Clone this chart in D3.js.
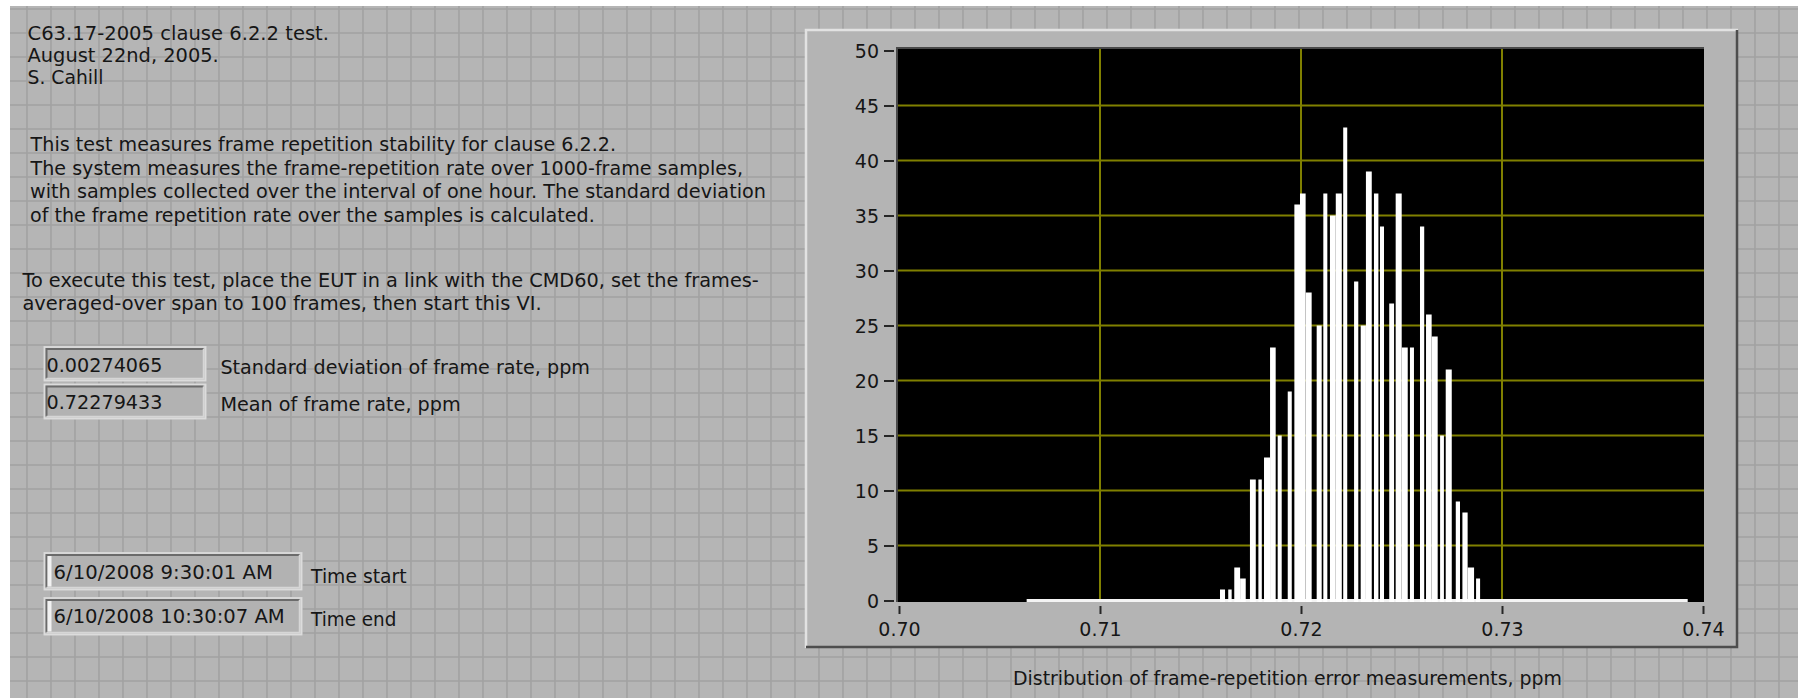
<!DOCTYPE html>
<html><head><meta charset="utf-8">
<script src="https://cdn.jsdelivr.net/npm/d3@7"></script>
<style>
body{margin:0;background:#fff}
svg{display:block}
text{font-family:"DejaVu Sans",sans-serif;font-size:19px;fill:#161616}
</style>
</head><body>
<svg id="c" width="1798" height="698"></svg>
<script>
// ---------------- data ----------------
const noteLines = ["C63.17-2005 clause 6.2.2 test.", "August 22nd, 2005.", "S. Cahill"];
const descLines = [
  "This test measures frame repetition stability for clause 6.2.2.",
  "The system measures the frame-repetition rate over 1000-frame samples,",
  "with samples collected over the interval of one hour. The standard deviation",
  "of the frame repetition rate over the samples is calculated."
];
const execLines = [
  "To execute this test, place the EUT in a link with the CMD60, set the frames-",
  "averaged-over span to 100 frames, then start this VI."
];
const stdDevPpm = 0.00274065;
const meanPpm = 0.72279433;
const indicatorLabels = ["Standard deviation of frame rate, ppm", "Mean of frame rate, ppm"];
const timeValues = ["6/10/2008 9:30:01 AM", "6/10/2008 10:30:07 AM"];
const timeLabels = ["Time start", "Time end"];
const xAxisTitle = "Distribution of frame-repetition error measurements, ppm";
const xTickValues = [0.70, 0.71, 0.72, 0.73, 0.74];
const yTickValues = [0, 5, 10, 15, 20, 25, 30, 35, 40, 45, 50];
const xGridValues = [0.71, 0.72, 0.73];
const yGridValues = [5, 10, 15, 20, 25, 30, 35, 40, 45];

// histogram bins (ppm) and counts
const binLo = [0.71597,0.71638,0.71668,0.71697,0.71746,0.71788,0.71816,0.71846,0.71884,0.71934,0.71967,0.71995,
  0.72023,0.72078,0.72111,0.72144,0.72173,0.72210,0.72264,0.72297,0.72323,0.72363,0.72393,0.72439,0.72471,0.72501,
  0.72542,0.72592,0.72622,0.72650,0.72692,0.72720,0.72770,0.72803,0.72829,0.72871];
const binHi = [0.71622,0.71655,0.71697,0.71725,0.71775,0.71805,0.71846,0.71874,0.71904,0.71954,0.71995,0.72023,
  0.72053,0.72103,0.72131,0.72173,0.72203,0.72230,0.72285,0.72323,0.72352,0.72385,0.72413,0.72463,0.72501,0.72531,
  0.72562,0.72613,0.72650,0.72680,0.72711,0.72750,0.72791,0.72829,0.72861,0.72891];
const binCounts = [1,1,3,2,11,11,13,23,15,19,36,37,28,25,37,35,37,43,29,25,39,37,34,27,37,23,23,34,26,24,15,21,9,8,3,2];

// ---------------- drawing ----------------
const W = 1798, H = 698;
const svg = d3.select("#c");
const BG = "#b5b5b5", GRID = "#a2a2a2";

svg.append("rect").attr("width", W).attr("height", H).attr("fill", "#ffffff");
svg.append("rect").attr("x", 10).attr("y", 6).attr("width", W - 10).attr("height", H - 6).attr("fill", BG);
const g0 = svg.append("g").attr("stroke", GRID).attr("stroke-width", 1.6);
g0.selectAll("line.v").data(d3.range(27, W, 24)).join("line")
  .attr("x1", d => d).attr("x2", d => d).attr("y1", 6).attr("y2", H);
g0.selectAll("line.h").data(d3.range(9, H, 24)).join("line")
  .attr("x1", 10).attr("x2", W).attr("y1", d => d).attr("y2", d => d);

function txt(str, x, yc, width, anchor) {
  const t = svg.append("text").attr("x", x).attr("y", yc + 6.9).text(str)
    .attr("text-anchor", anchor || "start");
  if (width) t.attr("textLength", width).attr("lengthAdjust", "spacingAndGlyphs");
  return t;
}

// left notes
const noteY = [33, 55, 77], noteW = [301.5, 191.3, 75.9];
noteLines.forEach((s, i) => txt(s, 27.5, noteY[i], noteW[i]));
const descY = [144.5, 168, 191.5, 215], descX = [30.6, 30.6, 30, 30], descW = [585.4, 712.4, 736, 564.7];
descLines.forEach((s, i) => txt(s, descX[i], descY[i], descW[i]));
const execY = [280.5, 303.5], execW = [736.4, 519.4];
execLines.forEach((s, i) => txt(s, 22.4, execY[i], execW[i]));

// indicator boxes
function box(x0, y0, w, h, strip) {
  svg.append("rect").attr("x", x0).attr("y", y0).attr("width", w).attr("height", h).attr("fill", "#c9c9c9");
  svg.append("rect").attr("x", x0 + 1).attr("y", y0 + 1).attr("width", w - 2).attr("height", h - 2)
    .attr("fill", "none").attr("stroke", "#dcdcdc").attr("stroke-width", 1.5);
  svg.append("rect").attr("x", x0 + 3).attr("y", y0 + 3).attr("width", w - 6).attr("height", h - 6).attr("fill", "#b2b2b2");
  svg.append("path").attr("d", `M${x0 + 3},${y0 + h - 3}V${y0 + 3}H${x0 + w - 3}`)
    .attr("fill", "none").attr("stroke", "#6b6b6b").attr("stroke-width", 2);
  svg.append("path").attr("d", `M${x0 + 3},${y0 + h - 3}H${x0 + w - 3}V${y0 + 3}`)
    .attr("fill", "none").attr("stroke", "#d6d6d6").attr("stroke-width", 1.5);
  if (strip) svg.append("rect").attr("x", x0 + 4).attr("y", y0 + 4).attr("width", 4).attr("height", h - 8).attr("fill", "#f2f2f2");
}
box(43.5, 346, 163, 35.5);
box(43.5, 383.5, 163, 36);
txt(String(stdDevPpm), 46.5, 365, 116);
txt(String(meanPpm), 46.5, 402, 116);
txt(indicatorLabels[0], 220.4, 367, 369.6);
txt(indicatorLabels[1], 220.4, 404.5, 240.3);

box(43.5, 552, 259, 38.5, true);
box(43.5, 597, 259, 38.5, true);
txt(timeValues[0], 53.6, 571.7, 219.4);
txt(timeValues[1], 53.6, 616, 231.1);
txt(timeLabels[0], 311, 576, 95.6);
txt(timeLabels[1], 311, 619.3, 85.4);

// graph panel
const P = {x0: 805, y0: 29, x1: 1738, y1: 648};
svg.append("rect").attr("x", P.x0).attr("y", P.y0).attr("width", P.x1 - P.x0).attr("height", P.y1 - P.y0).attr("fill", "#b4b4b4");
svg.append("path").attr("d", `M${P.x0 + 1},${P.y1}V${P.y0 + 1}H${P.x1}`).attr("fill", "none").attr("stroke", "#e2e2e2").attr("stroke-width", 2.5);
svg.append("path").attr("d", `M${P.x0 + 1},${P.y1 - 1}H${P.x1 - 1}V${P.y0 + 1}`).attr("fill", "none").attr("stroke", "#4e4e4e").attr("stroke-width", 2.5);

const x = d3.scaleLinear().domain([0.70, 0.74]).range([899, 1703]);
const y = d3.scaleLinear().domain([0, 50]).range([600.5, 50.5]);

// plot area
svg.append("rect").attr("x", 897).attr("y", 47.5).attr("width", 807).attr("height", 554.5).attr("fill", "#000");
svg.append("path").attr("d", "M897,602V48H1704").attr("fill", "none").attr("stroke", "#4a4a4a").attr("stroke-width", 2);

const grid = svg.append("g").attr("stroke", "#808000").attr("stroke-width", 2);
grid.selectAll("line.gx").data(xGridValues).join("line")
  .attr("x1", d => x(d)).attr("x2", d => x(d)).attr("y1", 49).attr("y2", 602);
grid.selectAll("line.gy").data(yGridValues).join("line")
  .attr("x1", 898).attr("x2", 1704).attr("y1", d => y(d)).attr("y2", d => y(d));

// histogram: zero baseline over mean ± 6 sigma, then bars
svg.append("rect").attr("x", x(meanPpm - 6 * stdDevPpm)).attr("y", y(0) - 1.5)
  .attr("width", x(meanPpm + 6 * stdDevPpm) - x(meanPpm - 6 * stdDevPpm)).attr("height", 3).attr("fill", "#f4f4f4");
svg.append("g").selectAll("rect").data(binCounts).join("rect")
  .attr("x", (d, i) => x(binLo[i]))
  .attr("width", (d, i) => x(binHi[i]) - x(binLo[i]))
  .attr("y", d => y(d))
  .attr("height", d => y(0) + 1.5 - y(d))
  .attr("fill", "#ffffff");

// axes
const yAxis = d3.axisLeft(y).tickValues(yTickValues).tickSize(10).tickPadding(5).tickFormat(d3.format("d"));
const ya = svg.append("g").attr("transform", "translate(894,0)").call(yAxis);
const xAxis = d3.axisBottom(x).tickValues(xTickValues).tickSize(8).tickPadding(9).tickFormat(d3.format(".2f"));
const xa = svg.append("g").attr("transform", "translate(0,606)").call(xAxis);
[ya, xa].forEach(a => {
  a.select(".domain").remove();
  a.selectAll(".tick line").attr("stroke", "#262626").attr("stroke-width", 2);
  a.selectAll(".tick text").attr("fill", "#161616").style("font-family", '"DejaVu Sans",sans-serif').style("font-size", "19px");
});
ya.selectAll(".tick text").attr("dy", "0.36em");

txt(xAxisTitle, 1287.5, 678, 549, "middle");
</script>
</body></html>
